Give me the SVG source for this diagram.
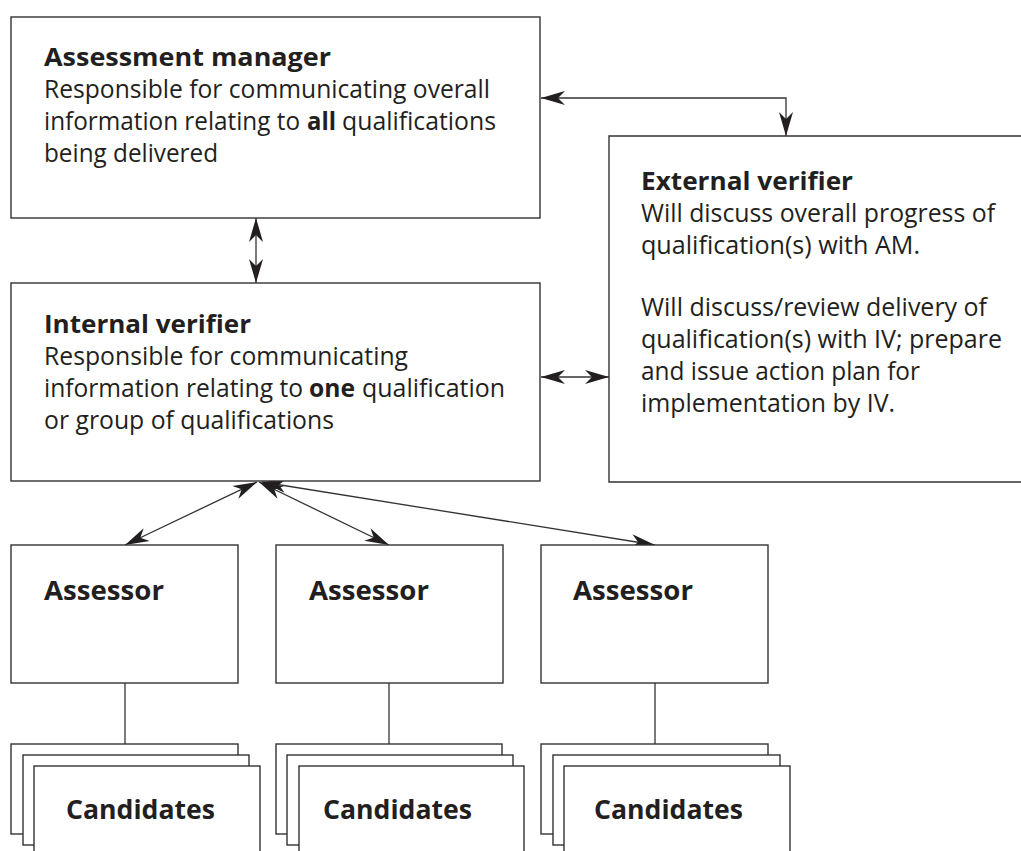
<svg xmlns="http://www.w3.org/2000/svg" width="1021" height="851" viewBox="0 0 1021 851">
<style>
  .box { fill: #ffffff; stroke: #333333; stroke-width: 1.4; }
  .t { font-family: "Open Sans", "Noto Sans", sans-serif; fill: #231f20; }
  .h { font-size: 25px; font-weight: 700; }
  .hl { font-size: 27px; font-weight: 700; }
  .b { font-size: 25px; font-weight: 400; }
  .con { fill: none; stroke: #333333; stroke-width: 1.3; }
  .arr { marker-start: url(#ah); marker-end: url(#ah); }
</style>
<defs>
  <marker id="ah" markerUnits="userSpaceOnUse" markerWidth="28" markerHeight="18" viewBox="-26 -9 28 18" refX="0" refY="0" orient="auto-start-reverse">
    <path d="M0,0 L-24,-7 L-17,0 L-24,7 Z" fill="#231f20"/>
  </marker>
</defs>
<rect width="1021" height="851" fill="#ffffff"/>

<g id="connectors">
  <path class="con arr" d="M541,98 H786 V136"/>
  <path class="con arr" d="M256,218 V283"/>
  <path class="con arr" d="M541,377 H609"/>
  <path class="con arr" d="M257,482 L125,545"/>
  <path class="con arr" d="M259,482 L389,545"/>
  <path class="con arr" d="M262,482 L655,545"/>
  <path class="con" d="M125,683 V744"/>
  <path class="con" d="M389,683 V744"/>
  <path class="con" d="M655,683 V744"/>
</g>

<g id="assessment-manager">
  <rect class="box" x="11" y="17" width="529" height="201"/>
  <text class="t h" x="44" y="66" textLength="287" lengthAdjust="spacingAndGlyphs">Assessment manager</text>
  <text class="t b" x="44" y="98" textLength="446" lengthAdjust="spacingAndGlyphs">Responsible for communicating overall</text>
  <text class="t b" x="44" y="130" textLength="256" lengthAdjust="spacingAndGlyphs">information relating to</text>
  <text class="t h" x="307" y="130" textLength="29" lengthAdjust="spacingAndGlyphs">all</text>
  <text class="t b" x="342" y="130" textLength="154" lengthAdjust="spacingAndGlyphs">qualifications</text>
  <text class="t b" x="44" y="162" textLength="174" lengthAdjust="spacingAndGlyphs">being delivered</text>
</g>

<g id="external-verifier">
  <path class="box" d="M1030,136 H609 V482 H1030"/>
  <text class="t h" x="641" y="190" textLength="212" lengthAdjust="spacingAndGlyphs">External verifier</text>
  <text class="t b" x="641" y="222" textLength="354" lengthAdjust="spacingAndGlyphs">Will discuss overall progress of</text>
  <text class="t b" x="641" y="254" textLength="279" lengthAdjust="spacingAndGlyphs">qualification(s) with AM.</text>
  <text class="t b" x="641" y="316" textLength="346" lengthAdjust="spacingAndGlyphs">Will discuss/review delivery of</text>
  <text class="t b" x="641" y="348" textLength="361" lengthAdjust="spacingAndGlyphs">qualification(s) with IV; prepare</text>
  <text class="t b" x="641" y="380" textLength="279" lengthAdjust="spacingAndGlyphs">and issue action plan for</text>
  <text class="t b" x="641" y="412" textLength="254" lengthAdjust="spacingAndGlyphs">implementation by IV.</text>
</g>

<g id="internal-verifier">
  <rect class="box" x="11" y="283" width="529" height="198"/>
  <text class="t h" x="44" y="333" textLength="207" lengthAdjust="spacingAndGlyphs">Internal verifier</text>
  <text class="t b" x="44" y="365" textLength="364" lengthAdjust="spacingAndGlyphs">Responsible for communicating</text>
  <text class="t b" x="44" y="397" textLength="259" lengthAdjust="spacingAndGlyphs">information relating to</text>
  <text class="t h" x="309" y="397" textLength="46" lengthAdjust="spacingAndGlyphs">one</text>
  <text class="t b" x="362" y="397" textLength="143" lengthAdjust="spacingAndGlyphs">qualification</text>
  <text class="t b" x="44" y="429" textLength="290" lengthAdjust="spacingAndGlyphs">or group of qualifications</text>
</g>

<g id="assessor-1">
  <rect class="box" x="11" y="545" width="227" height="138"/>
  <text class="t hl" x="44" y="600" textLength="120" lengthAdjust="spacingAndGlyphs">Assessor</text>
</g>
<g id="assessor-2">
  <rect class="box" x="276" y="545" width="227" height="138"/>
  <text class="t hl" x="309" y="600" textLength="120" lengthAdjust="spacingAndGlyphs">Assessor</text>
</g>
<g id="assessor-3">
  <rect class="box" x="541" y="545" width="227" height="138"/>
  <text class="t hl" x="573" y="600" textLength="120" lengthAdjust="spacingAndGlyphs">Assessor</text>
</g>

<g id="candidates-1">
  <rect class="box" x="11" y="744" width="227" height="90"/>
  <rect class="box" x="23" y="755" width="226" height="90"/>
  <rect class="box" x="34" y="766" width="226" height="110"/>
  <text class="t hl" x="66" y="819" textLength="149" lengthAdjust="spacingAndGlyphs">Candidates</text>
</g>
<g id="candidates-2">
  <rect class="box" x="276" y="744" width="226" height="90"/>
  <rect class="box" x="287" y="755" width="226" height="90"/>
  <rect class="box" x="299" y="766" width="225" height="110"/>
  <text class="t hl" x="323" y="819" textLength="149" lengthAdjust="spacingAndGlyphs">Candidates</text>
</g>
<g id="candidates-3">
  <rect class="box" x="541" y="744" width="227" height="90"/>
  <rect class="box" x="553" y="755" width="227" height="90"/>
  <rect class="box" x="564" y="766" width="226" height="110"/>
  <text class="t hl" x="594" y="819" textLength="149" lengthAdjust="spacingAndGlyphs">Candidates</text>
</g>
</svg>
